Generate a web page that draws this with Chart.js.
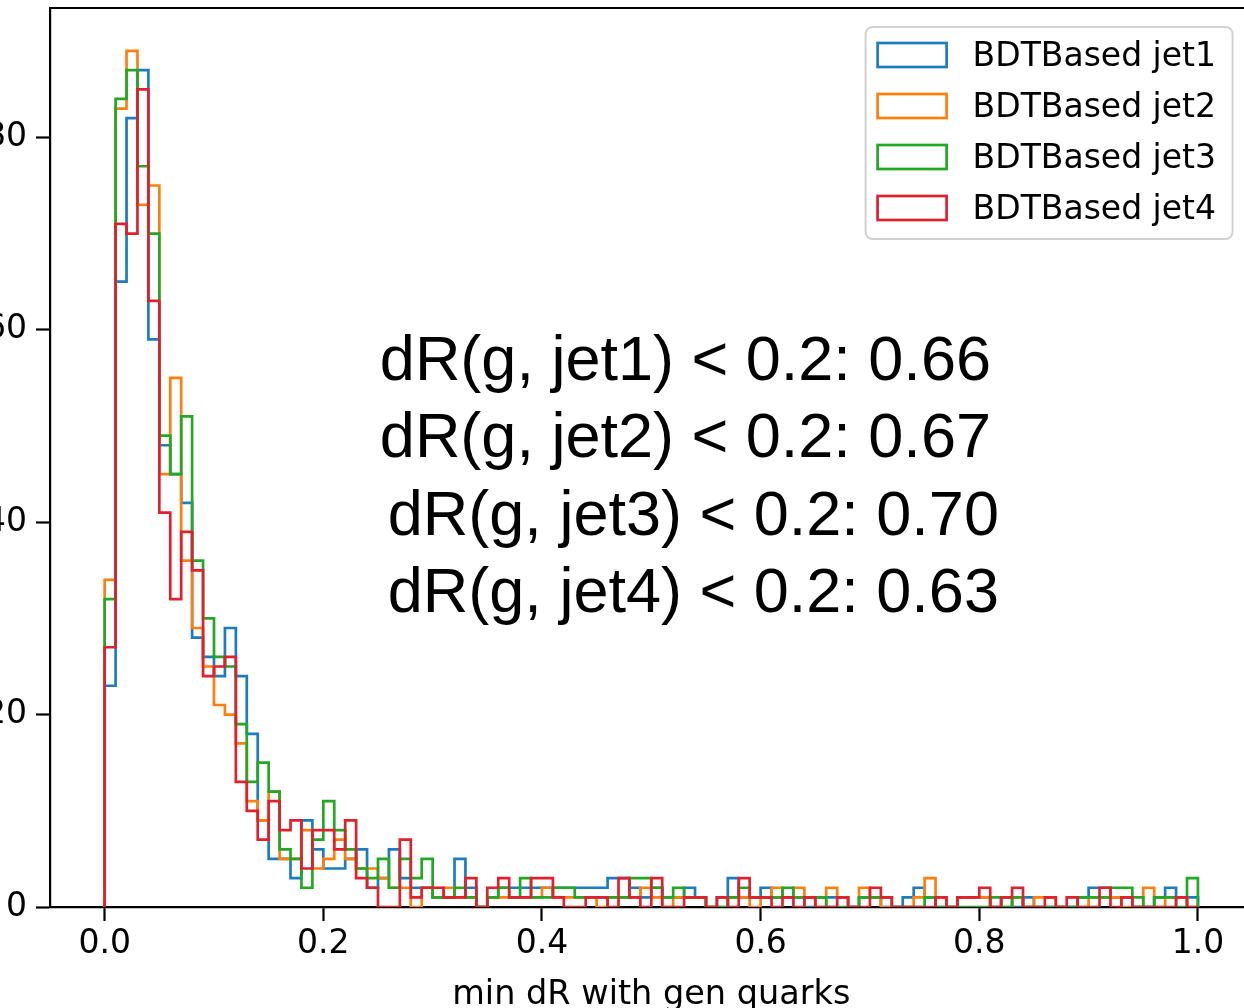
<!DOCTYPE html>
<html>
<head>
<meta charset="utf-8">
<title>min dR with gen quarks</title>
<script src="https://cdn.jsdelivr.net/npm/chart.js@4.4.0/dist/chart.umd.min.js"></script>
<style>
  html, body { margin: 0; padding: 0; background: #fff; overflow: hidden; }
  #wrap { position: relative; width: 1244px; height: 1008px; overflow: hidden; background: #fff; }
  #chart { position: absolute; left: 0; top: 0; }
</style>
</head>
<body>
<div id="wrap"><canvas id="chart" width="1300" height="1030"></canvas></div>
<script>
// step histograms, 100 bins on [0, 1]
const binLow = 0.0;
const binHigh = 1.0;

const seriesNames = ['BDTBased jet1', 'BDTBased jet2', 'BDTBased jet3', 'BDTBased jet4'];
const seriesColors = ['#1b7cc0', '#ff7f0e', '#22a824', '#e0202e'];

const jet1Counts = [
  23, 65, 82, 87, 59, 48, 45, 42, 28, 26,
  24, 29, 24, 18, 9, 5, 5, 3, 9, 6,
  4, 4, 5, 6, 2, 3, 6, 3, 2, 2,
  1, 1, 5, 2, 0, 1, 2, 2, 2, 2,
  2, 2, 2, 2, 2, 2, 3, 3, 2, 1,
  2, 1, 1, 2, 1, 0, 1, 3, 1, 1,
  2, 1, 1, 1, 0, 1, 1, 1, 0, 1,
  1, 0, 0, 1, 2, 1, 0, 0, 1, 1,
  1, 0, 1, 0, 1, 0, 0, 0, 0, 1,
  2, 2, 1, 1, 0, 0, 1, 2, 1, 1
];
const jet2Counts = [
  34, 83, 89, 73, 75, 45, 55, 36, 29, 25,
  21, 20, 17, 11, 9, 12, 5, 5, 8, 4,
  5, 7, 5, 4, 4, 3, 2, 2, 0, 2,
  1, 2, 1, 1, 0, 1, 1, 1, 1, 1,
  2, 1, 1, 1, 1, 0, 1, 1, 1, 2,
  1, 0, 1, 1, 1, 0, 0, 1, 1, 0,
  1, 2, 1, 2, 1, 0, 2, 1, 0, 2,
  1, 0, 0, 0, 1, 3, 1, 0, 1, 1,
  1, 0, 0, 1, 0, 1, 1, 0, 0, 0,
  1, 1, 1, 0, 0, 2, 0, 1, 1, 0
];
const jet3Counts = [
  32, 84, 87, 77, 70, 49, 45, 51, 36, 30,
  26, 25, 19, 13, 15, 12, 6, 5, 2, 7,
  11, 8, 6, 4, 3, 5, 2, 5, 3, 5,
  1, 1, 2, 1, 0, 1, 2, 1, 3, 1,
  1, 2, 2, 1, 1, 1, 1, 1, 3, 3,
  2, 1, 2, 1, 1, 0, 0, 1, 2, 1,
  1, 1, 2, 1, 1, 1, 0, 0, 0, 1,
  1, 1, 0, 0, 0, 1, 0, 0, 0, 0,
  0, 1, 0, 1, 0, 0, 0, 0, 0, 1,
  1, 1, 2, 2, 1, 0, 1, 1, 0, 3
];
const jet4Counts = [
  27, 71, 70, 85, 63, 41, 32, 39, 35, 24,
  25, 26, 13, 10, 7, 11, 8, 9, 4, 8,
  8, 6, 9, 3, 2, 0, 0, 7, 1, 2,
  2, 1, 1, 3, 0, 2, 3, 1, 1, 3,
  3, 1, 0, 0, 1, 1, 0, 3, 1, 0,
  3, 0, 0, 1, 1, 0, 1, 0, 3, 1,
  1, 0, 1, 0, 1, 0, 0, 1, 0, 0,
  2, 1, 0, 0, 0, 0, 1, 0, 1, 1,
  2, 0, 1, 2, 0, 0, 1, 0, 1, 0,
  0, 2, 0, 1, 0, 0, 0, 0, 1, 0
];

const xTicks = [0.0, 0.2, 0.4, 0.6, 0.8, 1.0];
const xTickLabels = ['0.0', '0.2', '0.4', '0.6', '0.8', '1.0'];
const yTicks = [0, 20, 40, 60, 80];
const yTickLabels = ['0', '20', '40', '60', '80'];
const xLimits = [-0.05, 1.05];
const yLimits = [0, 93.45];

const fractionLines = [
  'dR(g, jet1) < 0.2: 0.66',
  'dR(g, jet2) < 0.2: 0.67',
  'dR(g, jet3) < 0.2: 0.70',
  'dR(g, jet4) < 0.2: 0.63'
];

const allCounts = [jet1Counts, jet2Counts, jet3Counts, jet4Counts];

// outline of a histogram: left edge of every bin, closed back to zero at both ends
function stepPoints(counts) {
  const w = (binHigh - binLow) / counts.length;
  const pts = [{ x: binLow, y: 0 }];
  counts.forEach((c, i) => pts.push({ x: binLow + i * w, y: c }));
  pts.push({ x: binHigh, y: 0 });
  return pts;
}

const LINE_W = 2.7;
const AXIS_W = 2.2;
const FONT_PX = 33;
const mplFont = '"DejaVu Sans", Verdana, sans-serif';

// top spine (right one sits past the picture edge)
const frame = {
  id: 'frame',
  afterDatasetsDraw(chart) {
    const { ctx, chartArea: a } = chart;
    ctx.save();
    ctx.strokeStyle = '#000';
    ctx.lineWidth = AXIS_W;
    ctx.beginPath();
    ctx.moveTo(a.left, a.top);
    ctx.lineTo(a.right, a.top);
    ctx.lineTo(a.right, a.bottom);
    ctx.stroke();
    ctx.restore();
  }
};

// matplotlib style legend, upper right
const mplLegend = {
  id: 'mplLegend',
  afterDraw(chart) {
    const { ctx, chartArea: a } = chart;
    const boxW = 367, boxH = 212;
    const bx = a.right - 20 - boxW;
    const by = a.top + 19;
    ctx.save();
    ctx.beginPath();
    ctx.roundRect(bx, by, boxW, boxH, 7);
    ctx.fillStyle = 'rgba(255,255,255,0.8)';
    ctx.fill();
    ctx.strokeStyle = 'rgba(204,204,204,0.9)';
    ctx.lineWidth = 2;
    ctx.stroke();
    ctx.font = FONT_PX + 'px ' + mplFont;
    ctx.textBaseline = 'middle';
    ctx.textAlign = 'left';
    chart.data.datasets.forEach((ds, i) => {
      const cy = by + 28 + i * 51;
      ctx.strokeStyle = ds.borderColor;
      ctx.lineWidth = LINE_W;
      ctx.strokeRect(bx + 12, cy - 12, 69, 24);
      ctx.fillStyle = '#000';
      ctx.fillText(ds.label, bx + 107, cy + 2);
    });
    ctx.restore();
  }
};

// the pasted-in fractions, anchored in data units
const fractionText = {
  id: 'fractionText',
  afterDraw(chart) {
    const { ctx, scales } = chart;
    const anchorX = [0.2517, 0.2517, 0.2590, 0.2590];
    const anchorY = [54.75, 46.73, 38.7, 30.68];
    ctx.save();
    ctx.font = '63px "Liberation Sans", Arial, Helvetica, sans-serif';
    ctx.fillStyle = '#000';
    ctx.textAlign = 'left';
    ctx.textBaseline = 'alphabetic';
    fractionLines.forEach((t, i) => {
      ctx.fillText(t, scales.x.getPixelForValue(anchorX[i]), scales.y.getPixelForValue(anchorY[i]));
    });
    ctx.restore();
  }
};

const datasets = allCounts.map((counts, i) => ({
  label: seriesNames[i],
  data: stepPoints(counts),
  borderColor: seriesColors[i],
  backgroundColor: 'rgba(0,0,0,0)',
  borderWidth: LINE_W,
  borderJoinStyle: 'miter',
  stepped: 'before',
  fill: false,
  pointRadius: 0,
  pointHoverRadius: 0,
  order: allCounts.length - i // jet4 ends up on top, like matplotlib
}));

new Chart(document.getElementById('chart'), {
  type: 'line',
  data: { datasets },
  options: {
    responsive: false,
    animation: false,
    devicePixelRatio: 1,
    layout: { padding: { left: 0, top: 8, right: 47.4, bottom: 15 } },
    plugins: {
      legend: { display: false },
      tooltip: { enabled: false },
      title: { display: false }
    },
    scales: {
      x: {
        type: 'linear',
        min: xLimits[0],
        max: xLimits[1],
        afterBuildTicks: (axis) => { axis.ticks = xTicks.map(v => ({ value: v })); },
        afterFit: (axis) => { axis.height = 108; axis.paddingLeft = 0; axis.paddingRight = 0; },
        grid: { display: true, drawOnChartArea: false, drawTicks: true, tickLength: 14, tickWidth: AXIS_W, tickColor: '#000' },
        border: { display: true, color: '#000', width: AXIS_W },
        ticks: {
          color: '#000',
          font: { family: mplFont, size: FONT_PX },
          padding: 4,
          autoSkip: false,
          maxRotation: 0,
          callback: (v, i) => xTickLabels[i]
        },
        title: {
          display: true,
          text: 'min dR with gen quarks',
          color: '#000',
          font: { family: mplFont, size: 33.5 },
          padding: { top: 0, bottom: 0 }
        }
      },
      y: {
        type: 'linear',
        min: yLimits[0],
        max: yLimits[1],
        afterBuildTicks: (axis) => { axis.ticks = yTicks.map(v => ({ value: v })); },
        afterFit: (axis) => { axis.width = 50; axis.paddingTop = 0; axis.paddingBottom = 0; },
        grid: { display: true, drawOnChartArea: false, drawTicks: true, tickLength: 14, tickWidth: AXIS_W, tickColor: '#000' },
        border: { display: true, color: '#000', width: AXIS_W },
        ticks: {
          color: '#000',
          font: { family: mplFont, size: FONT_PX },
          padding: 9,
          callback: (v, i) => yTickLabels[i]
        }
      }
    }
  },
  plugins: [frame, mplLegend, fractionText]
});
</script>
</body>
</html>
